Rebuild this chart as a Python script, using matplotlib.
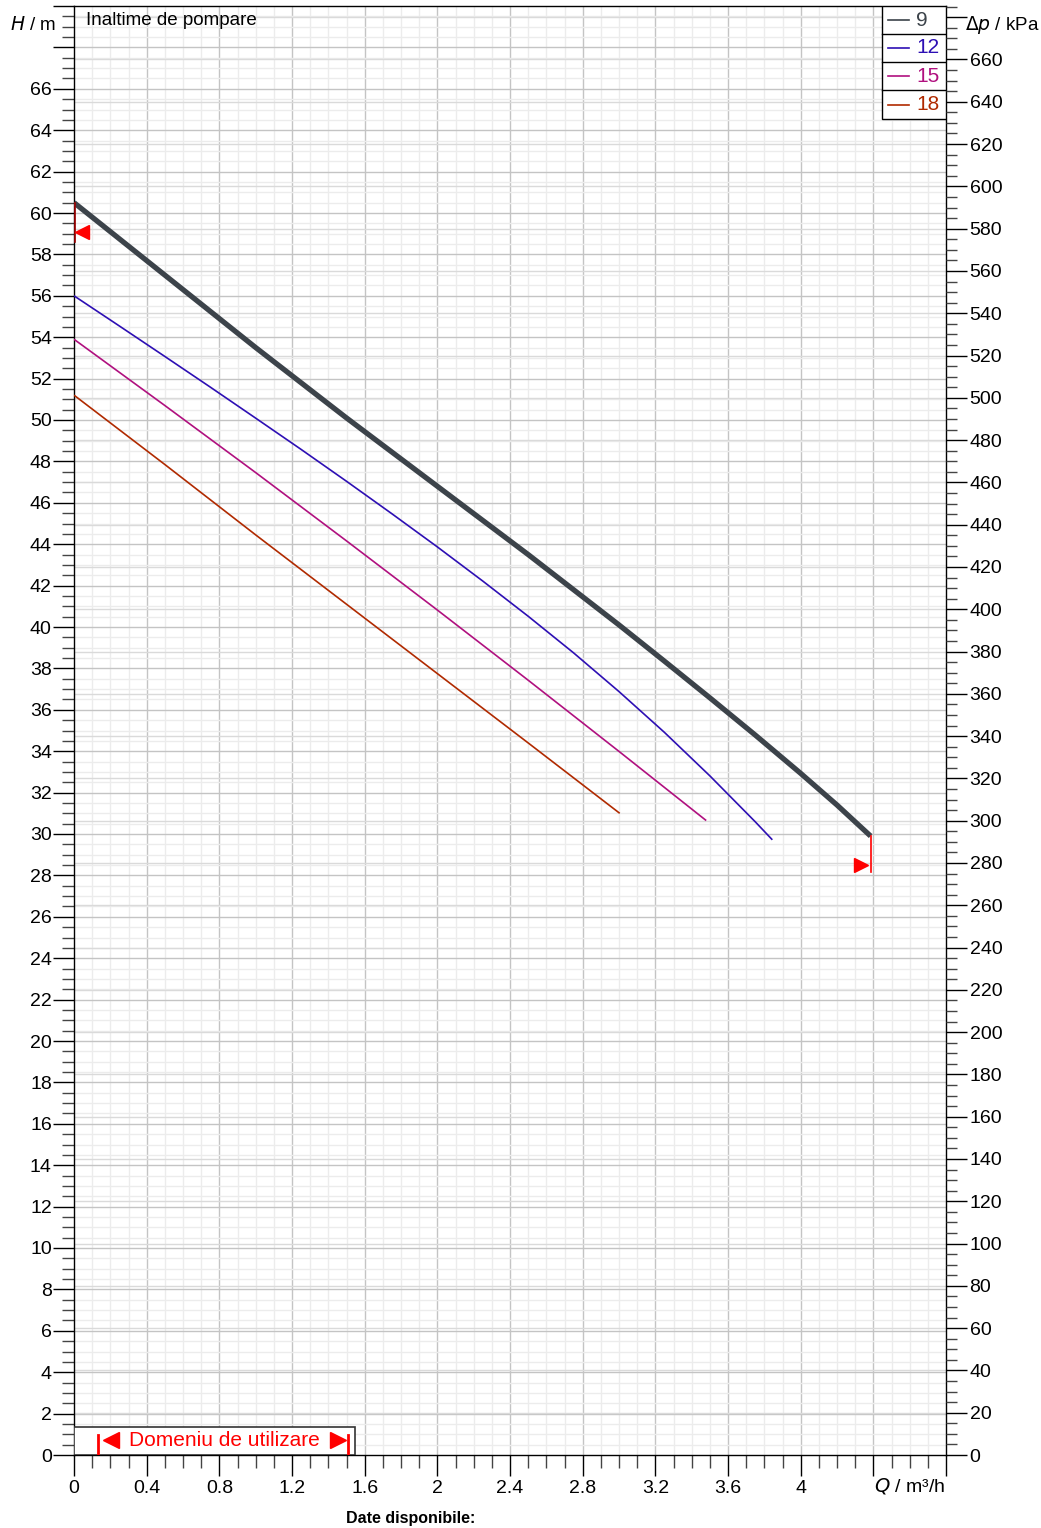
import matplotlib
matplotlib.use('Agg')
import matplotlib.pyplot as plt
from matplotlib.patches import Rectangle
from matplotlib.ticker import MultipleLocator, FuncFormatter
import numpy as np

plt.rcParams['font.family'] = ['Liberation Sans', 'DejaVu Sans']

# pump curves (Q in m3/h, H in m)
labels = ['9', '12', '15', '18']
colors = ['#3c434a', '#2d0fb4', '#b0107f', '#b02a00']
widths = [3.8, 1.2, 1.2, 1.2]

q_9 = [0.0, 0.5, 1.0, 1.5, 2.0, 2.5, 3.0, 3.25, 3.5, 3.75, 4.0, 4.2, 4.385]
h_9 = [60.5, 57.0, 53.5, 50.1, 46.8, 43.5, 40.1, 38.35, 36.58, 34.78, 32.93, 31.4, 29.9]

q_12 = [0.0, 0.25, 0.5, 0.75, 1.0, 1.25, 1.5, 1.75, 2.0, 2.25, 2.5, 2.75, 3.0, 3.25, 3.5, 3.75, 3.844]
h_12 = [56.0, 54.54, 53.07, 51.59, 50.09, 48.58, 47.04, 45.47, 43.87, 42.22, 40.52,
        38.75, 36.88, 34.91, 32.81, 30.59, 29.72]

q_15 = [0.0, 0.5, 1.0, 1.5, 2.0, 2.5, 3.0, 3.48]
h_15 = [53.9, 50.7, 47.46, 44.16, 40.82, 37.43, 33.99, 30.65]

q_18 = [0.0, 0.5, 1.0, 1.5, 2.0, 2.5, 3.004]
h_18 = [51.2, 47.85, 44.45, 41.1, 37.75, 34.4, 31.0]

curves_q = [q_9, q_12, q_15, q_18]
curves_h = [h_9, h_12, h_15, h_18]

# operating limits
h_max_mark = 59.1
q_max_mark = (4.33, 28.5)
domain_q = (0.13, 1.51)
kpa_per_m = 9.79

fig = plt.figure(figsize=(10.41, 15.28), dpi=100)
ax = fig.add_axes([74/1041, 1-1455/1528, 872/1041, 1449/1528])

ax.set_xlim(0, 4.8)
ax.set_ylim(0, 70)

# grid
ax.set_axisbelow(True)
for x in np.arange(0.1, 4.8, 0.1):
    if abs(x/0.4 - round(x/0.4)) < 1e-6:
        ax.axvline(x, color='#c4c4c4', lw=1.0, zorder=0)
    else:
        ax.axvline(x, color='#ececec', lw=1.0, zorder=0)
for y in np.arange(0.5, 70, 0.5):
    if abs(y/2 - round(y/2)) < 1e-6:
        ax.axhline(y, color='#c4c4c4', lw=1.0, zorder=0)
    else:
        ax.axhline(y, color='#ececec', lw=1.0, zorder=0)
for p in np.arange(20, 70*kpa_per_m, 20):
    ax.axhline(p/kpa_per_m, color='#dadada', lw=1.0, zorder=0)

for q, h, c, w in zip(curves_q, curves_h, colors, widths):
    ax.plot(q, h, color=c, lw=w, solid_capstyle='butt', solid_joinstyle='round', zorder=3)

# red markers
ax.plot([0.005, 0.005], [58.6, 60.5], color='#a00000', lw=1.2, zorder=4)
ax.plot(0.045, h_max_mark, marker='<', color='red', ms=10, mec='red', zorder=5, clip_on=False)
ax.plot([q_9[-1], q_9[-1]], [h_9[-1], 28.15], color='red', lw=1.2, zorder=4)
ax.plot(q_max_mark[0], q_max_mark[1], marker='>', color='red', ms=10, mec='red', zorder=5)

# ticks
ax.xaxis.set_major_locator(MultipleLocator(0.4))
ax.xaxis.set_minor_locator(MultipleLocator(0.1))
ax.xaxis.set_major_formatter(FuncFormatter(lambda v, pos: '%g' % round(v, 1) if v < 4.1 else ''))
ax.text(4.6, -1.0, r'$\it{Q}$ / m³/h', ha='center', va='top', fontsize=14)

ax.yaxis.set_major_locator(MultipleLocator(2))
ax.yaxis.set_minor_locator(MultipleLocator(0.5))
ax.yaxis.set_major_formatter(FuncFormatter(lambda v, pos: '%d' % round(v) if v < 67 else ''))

ax.tick_params(axis='both', which='major', length=15, width=1.0, color='black', direction='out', labelsize=14)
ax.tick_params(axis='y', which='major', pad=1)
ax.tick_params(axis='x', which='major', pad=3)
ax.tick_params(axis='both', which='minor', length=9, width=1.0, color='#444444', direction='out')
for s in ax.spines.values():
    s.set_color('black')
    s.set_linewidth(1.0)

ax2 = ax.twinx()
ax2.set_ylim(0, 70*kpa_per_m)
ax2.yaxis.set_major_locator(MultipleLocator(20))
ax2.yaxis.set_minor_locator(MultipleLocator(5))
ax2.yaxis.set_major_formatter(FuncFormatter(lambda v, pos: '%d' % round(v) if v < 670 else ''))
ax2.tick_params(axis='y', which='major', length=15, width=1.0, color='black', labelsize=14, pad=2)
ax2.tick_params(axis='y', which='minor', length=8, width=1.0, color='#444444')
for s in ax2.spines.values():
    s.set_visible(False)

# axis titles
fig.text(10/1041, 1-25/1528, r'$\it{H}$ / m', ha='left', va='center', fontsize=13.5)
fig.text(965/1041, 1-25/1528, r'$\Delta\it{p}$ / kPa', ha='left', va='center', fontsize=13.5)
ax.text(0.067, 69.3, 'Inaltime de pompare', ha='left', va='center', fontsize=13.5)
fig.text(411/1041, 1-1519/1528, 'Date disponibile:', ha='center', va='center', fontsize=11.5, fontweight='bold')

# legend box
lx0 = (882-74)/872
row_edges = [1.0, (1455-34)/1449, (1455-62)/1449, (1455-90)/1449, (1455-119)/1449]
ax.add_patch(Rectangle((lx0, row_edges[-1]), 1-lx0, 1-row_edges[-1], transform=ax.transAxes,
                       facecolor='white', edgecolor='black', lw=1.0, zorder=6))
for i in range(1, 4):
    ax.plot([lx0, 1], [row_edges[i], row_edges[i]], transform=ax.transAxes, color='black', lw=1.0, zorder=7)
for i, (lab, c) in enumerate(zip(labels, colors)):
    yc = (row_edges[i] + row_edges[i+1]) / 2
    ax.plot([lx0 + 0.0065, lx0 + 0.031], [yc, yc], transform=ax.transAxes, color=c, lw=1.2, zorder=8)
    ax.text(lx0 + 0.039, yc, lab, transform=ax.transAxes, ha='left', va='center',
            color=c, fontsize=15, zorder=8)

# usage range box
ax.add_patch(Rectangle((0, 0), 1.545, 1.35, facecolor='white', edgecolor='#333333', lw=1.2, zorder=6))
for q in domain_q:
    ax.plot([q, q], [0, 0.95], color='red', lw=2, zorder=7)
ax.plot(0.205, 0.72, marker='<', color='red', ms=11, mec='red', zorder=8)
ax.plot(1.455, 0.72, marker='>', color='red', ms=11, mec='red', zorder=8)
ax.text(0.828, 0.72, 'Domeniu de utilizare', ha='center', va='center',
        color='red', fontsize=15, zorder=8)

fig.savefig('out.png', dpi=100)
